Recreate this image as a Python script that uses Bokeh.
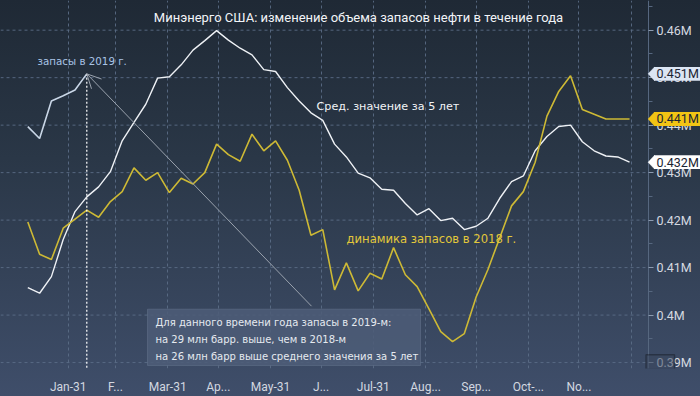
from bokeh.plotting import figure
from bokeh.models import (Range1d, FixedTicker, CustomJSTickFormatter, Label, LinearAxis,
                          BoxAnnotation, Arrow, OpenHead, PolyAnnotation)
from bokeh.embed import file_html
from bokeh.resources import INLINE

# ---------------- data ----------------
week_day = list(range(7, 365, 7))          # weekly observations, day of year (52 weeks)

avg_5y = [0.4058, 0.4046, 0.4081, 0.4159, 0.4218, 0.4249, 0.4270, 0.4302, 0.4367, 0.4406,
          0.4444, 0.4499, 0.4502, 0.4527, 0.4558, 0.4578, 0.4599, 0.4579, 0.4562, 0.4548,
          0.4517, 0.4513, 0.4479, 0.4451, 0.4426, 0.4410, 0.4360, 0.4333, 0.4299, 0.4289,
          0.4265, 0.4263, 0.4235, 0.4211, 0.4224, 0.4199, 0.4204, 0.4180, 0.4187, 0.4204,
          0.4246, 0.4281, 0.4293, 0.4346, 0.4376, 0.4397, 0.4400, 0.4365, 0.4346, 0.4335,
          0.4333, 0.4322]

stocks_2018 = [0.4196, 0.4128, 0.4117, 0.4183, 0.4202, 0.4221, 0.4206, 0.4239, 0.4260, 0.4310,
               0.4284, 0.4300, 0.4258, 0.4288, 0.4276, 0.4300, 0.4360, 0.4338, 0.4324, 0.4381,
               0.4346, 0.4367, 0.4326, 0.4263, 0.4168, 0.4180, 0.4053, 0.4110, 0.4051, 0.4088,
               0.4076, 0.4142, 0.4085, 0.4060, 0.4013, 0.3965, 0.3944, 0.3961, 0.4038, 0.4096,
               0.4163, 0.4230, 0.4260, 0.4322, 0.4419, 0.4471, 0.4504, 0.4433, 0.4423, 0.4413,
               0.4413, 0.4413]

stocks_2019 = [0.4397, 0.4372, 0.4451, 0.4462, 0.4474, 0.4508]

month_end_days = [31, 59, 90, 120, 151, 181, 212, 243, 273, 304, 334, 365]
month_labels = ["Jan-31", "F...", "Mar-31", "Ap...", "May-31", "J...", "Jul-31",
                "Aug...", "Sep...", "Oct-...", "No...", ""]

y_ticks = [0.39, 0.40, 0.41, 0.42, 0.43, 0.44, 0.45, 0.46]
y_minor = [0.385, 0.395, 0.405, 0.415, 0.425, 0.435, 0.445, 0.455, 0.465]

title_text = "Минэнерго США: изменение объема запасов нефти в течение года"
note_lines = ["Для данного времени года запасы в 2019-м:",
              "на 29 млн барр. выше, чем в 2018-м",
              "на 26 млн барр выше среднего значения за 5 лет"]

# ---------------- layout helpers ----------------
W, H = 700, 396
AXIS_PX, FH = 648, 372
X0 = -9.2
KX = 0.59329                      # days per pixel
X1 = X0 + W * KX
Y0, Y1 = 0.38875, 0.46625


def dx(px):
    return X0 + px * KX


def dy(py):
    return Y1 - py * (Y1 - Y0) / FH


FONT = "Roboto"
SANS = "DejaVu Sans"

p = figure(width=W, height=H, x_range=Range1d(X0, X1), y_range=Range1d(Y0, Y1),
           y_axis_location=None, output_backend="svg", toolbar_location=None,
           min_border_left=0, min_border_top=0, min_border_right=0,
           min_border_bottom=H - FH)
p.styles = {"background": "linear-gradient(to bottom, #1f2935 0%, #2a3747 40%, #3f4e6a 100%)"}
p.background_fill_alpha = 0
p.border_fill_alpha = 0
p.outline_line_color = None

# bottom axis
p.xaxis.ticker = FixedTicker(ticks=month_end_days)
p.xaxis.major_label_overrides = {d: lab for d, lab in zip(month_end_days, month_labels)}
p.xaxis.axis_line_color = None
p.xaxis.major_tick_line_color = None
p.xaxis.minor_tick_line_color = None
p.xaxis.major_label_text_color = "#d3d8e0"
p.xaxis.major_label_text_font = FONT
p.xaxis.major_label_text_font_size = "12px"
p.xaxis.major_label_standoff = 5

# right value axis, pinned at the right edge of the plotting area
yax = LinearAxis(fixed_location=dx(AXIS_PX),
                 ticker=FixedTicker(ticks=y_ticks, minor_ticks=y_minor),
                 formatter=CustomJSTickFormatter(code="return tick.toFixed(2).replace(/0$/, '') + 'M';"))
yax.axis_line_color = "#56677f"
yax.major_tick_line_color = "#8c9bb0"
yax.major_tick_in = 0
yax.major_tick_out = 5
yax.minor_tick_line_color = "#56677f"
yax.minor_tick_in = 0
yax.minor_tick_out = 4
yax.major_label_text_color = "#d5d9e0"
yax.major_label_text_font = FONT
yax.major_label_text_font_size = "12.5px"
yax.major_label_standoff = 3
p.add_layout(yax, "right")

# grid
p.xgrid.grid_line_color = "#5b6d86"
p.xgrid.grid_line_dash = "3 3"
p.xgrid.grid_line_alpha = 0.9
p.ygrid.visible = False
p.segment(x0=[X0] * len(y_ticks), x1=[dx(AXIS_PX - 2)] * len(y_ticks), y0=y_ticks, y1=y_ticks,
          line_color="#5b6d86", line_dash="3 3", line_alpha=0.9, line_width=1)

# lines
p.line(week_day, avg_5y, line_color="#eef1f5", line_width=1.4)
p.line(week_day, stocks_2018, line_color="#cdb935", line_width=1.6)
p.line(week_day[:len(stocks_2019)], stocks_2019, line_color="#c9d6e6", line_width=1.6)

# current-date marker
last_day = week_day[len(stocks_2019) - 1]
last_val = stocks_2019[-1]
p.segment(x0=[last_day], y0=[last_val], x1=[last_day], y1=[Y0],
          line_color="#ffffff", line_dash="2 2", line_width=1.2)

# annotation box + arrow
p.add_layout(BoxAnnotation(left=dx(147), right=dx(420), top=dy(312), bottom=dy(369),
                           fill_color="#4d5d78", fill_alpha=0.85,
                           line_color="#7f8ea4", line_width=1))
for i, line in enumerate(note_lines):
    p.add_layout(Label(x=dx(155), y=dy(326 + i * 17), text=line,
                       text_font=SANS, text_font_size="10px",
                       text_color="#e6eaf0", text_baseline="middle"))
p.add_layout(Arrow(end=OpenHead(size=14, line_color="#9aa2ad", line_width=1),
                   x_start=dx(311), y_start=dy(309), x_end=last_day, y_end=last_val,
                   line_color="#9aa2ad", line_width=1))

# text labels
p.add_layout(Label(x=dx(358), y=dy(17), text=title_text, text_align="center",
                   text_baseline="middle", text_font=FONT, text_font_size="13px",
                   text_color="#f2f4f7"))
p.add_layout(Label(x=dx(37), y=dy(61), text="запасы в 2019 г.", text_baseline="middle",
                   text_font=SANS, text_font_size="10.3px", text_color="#a9c4e6"))
p.add_layout(Label(x=dx(316), y=dy(107), text="Сред. значение за 5 лет", text_baseline="middle",
                   text_font=SANS, text_font_size="11.2px", text_color="#f2f4f7"))
p.add_layout(Label(x=dx(346), y=dy(241), text="динамика запасов в 2018 г.", text_baseline="middle",
                   text_font=SANS, text_font_size="11.6px", text_color="#e3c83a"))

# last-value tags on the right axis
tags = [(stocks_2019[-1], "#dbe5f3"), (stocks_2018[-1], "#f2c414"), (avg_5y[-1], "#ffffff")]
half = 7 * (Y1 - Y0) / FH
for v, col in tags:
    p.add_layout(PolyAnnotation(xs=[dx(647.5), dx(654), dx(654)], ys=[v, v + half, v - half],
                                fill_color=col, fill_alpha=1, line_color=col))
    p.add_layout(BoxAnnotation(left=dx(653.5), right=dx(700), top=v + half, bottom=v - half,
                               fill_color=col, fill_alpha=1, line_color=None))
    p.add_layout(Label(x=dx(656), y=v, text=f"{v:.3f}M", text_baseline="middle",
                       text_font=FONT, text_font_size="12.5px", text_color="#1b2433"))

# small overlay box at the bottom of the value axis
p.add_layout(BoxAnnotation(left=dx(645.5), right=dx(674), top=dy(358), bottom=dy(373),
                           fill_color="#3a475c", fill_alpha=0.55,
                           line_color="#000000", line_width=1.5))

open("out.html", "w").write(file_html(p, INLINE))
